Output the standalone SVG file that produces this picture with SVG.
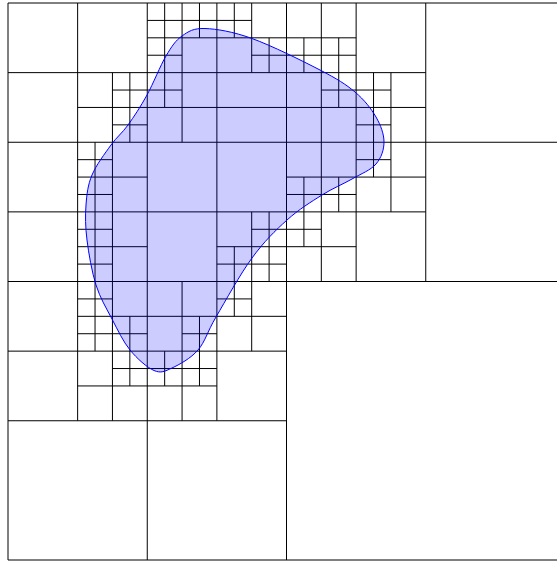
<svg xmlns="http://www.w3.org/2000/svg" width="557" height="561" viewBox="0 0 557 561">
<style>
.q{fill:none;stroke:#000;stroke-width:1;vector-effect:non-scaling-stroke}
.blob{fill:#0000ff;fill-opacity:0.2;stroke:#0000ff;stroke-width:1}
</style>
<rect width="557" height="561" fill="#ffffff"/>
<g id="quadtree" transform="translate(8 3) scale(17.40625)">
<path id="level0" class="q" d="M0 0H32V32H0Z"/>
<path id="level1" class="q" d="M16 0V32M0 16H32"/>
<path id="level2" class="q" d="M8 0V32M0 8H32M24 0V16M0 24H16"/>
<path id="level3" class="q" d="M4 0V24M12 0V24M20 0V16M0 4H24M0 12H24M0 20H16"/>
<path id="level4" class="q" d="M6 4V24M10 0V8M10 16V24M14 0V4M14 12V20M18 0V16M22 4V12M8 2H20M4 6H24M4 10H8M16 10H24M4 14H8M12 14H20M4 18H16M4 22H12"/>
<path id="level5" class="q" d="M5 8V20M7 4V8M7 18V22M9 0V6M9 20V22M11 0V2M11 18V22M13 0V2M13 14V18M15 2V4M15 12V16M17 2V4M17 10V14M19 2V6M19 10V12M21 4V10M8 1H14M8 3H10M14 3H20M6 5H10M18 5H22M6 7H8M20 7H22M4 9H6M20 9H22M4 11H6M16 11H20M4 13H6M14 13H18M4 15H6M12 15H16M4 17H6M12 17H14M4 19H8M10 19H12M6 21H12"/>
</g>
<g id="region">
<path class="blob" d="M205 28.5C216.67 28.92 232.83 31.58 252 38.5C271.17 45.42 302.83 61.08 320 70C337.17 78.92 345.67 84.17 355 92C364.33 99.83 371.17 108.67 376 117C380.83 125.33 384 134.17 384 142C384 149.83 381.33 157.83 376 164C370.67 170.17 361 173.83 352 179C343 184.17 332.83 188.17 322 195C311.17 201.83 298.67 209.5 287 220C275.33 230.5 263.83 241.83 252 258C240.17 274.17 225 301.67 216 317C207 332.33 205.33 341.5 198 350C190.67 358.5 179.33 364.58 172 368C164.67 371.42 161 373.5 154 370.5C147 367.5 137 358.58 130 350C123 341.42 117.67 329.83 112 319C106.33 308.17 100.17 298.17 96 285C91.83 271.83 88.67 253.33 87 240C85.33 226.67 85.17 215.83 86 205C86.83 194.17 87.83 185 92 175C96.17 165 105 153.33 111 145C117 136.67 122 133.33 128 125C134 116.67 140.67 106.5 147 95C153.33 83.5 160.17 65.83 166 56C171.83 46.17 175.5 40.58 182 36C188.5 31.42 193.33 28.08 205 28.5Z"/>
</g>
</svg>
